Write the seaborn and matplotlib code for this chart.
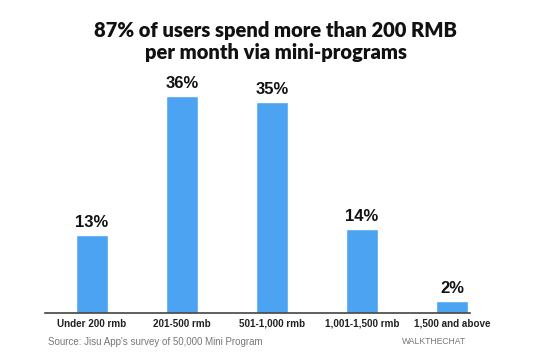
import pandas as pd
import seaborn as sns
import matplotlib.pyplot as plt

# spending brackets and share of users (%)
brackets = ['Under 200 rmb', '201-500 rmb', '501-1,000 rmb', '1,001-1,500 rmb', '1,500 and above']
share = [13, 36, 35, 14, 2]
labels = ['13%', '36%', '35%', '14%', '2%']

df = pd.DataFrame({'bracket': brackets, 'share': share})

sns.set_style('white')
plt.rcParams['font.family'] = ['Liberation Sans', 'DejaVu Sans']

fig = plt.figure(figsize=(5.52, 3.55), dpi=100)
ax = fig.add_axes([0.0815, 0.118, 0.77, 0.645])

sns.barplot(data=df, x='bracket', y='share', color='#4ba3f2', saturation=1,
            width=0.36, ax=ax)

for i, v in enumerate(share):
    ax.text(i, v + 0.8, labels[i], ha='center', va='bottom',
            fontsize=12, fontweight='bold', color='#111111')

ax.set_xlim(-0.52, 4.2)
ax.set_ylim(0, 38)
ax.set_xlabel('')
ax.set_ylabel('')
ax.set_yticks([])
ax.tick_params(axis='x', length=0, pad=4)
for t in ax.get_xticklabels():
    t.set_fontsize(7.1)
    t.set_fontweight('bold')
    t.set_color('#222222')
sns.despine(ax=ax, left=True)
ax.spines['bottom'].set_color('#444444')
ax.spines['bottom'].set_linewidth(1.2)

fig.text(0.5, 0.882, '87% of users spend more than 200 RMB\nper month via mini-programs',
         ha='center', va='center', fontsize=14.5, fontweight='heavy',
         family=['Lato', 'DejaVu Sans'], color='#111111', linespacing=1.2)

fig.text(0.087, 0.037, "Source: Jisu App's survey of 50,000 Mini Program",
         ha='left', va='center', fontsize=7, color='#777777')
fig.text(0.845, 0.037, 'WALKTHECHAT', ha='right', va='center',
         fontsize=6.2, color='#777777')

fig.savefig('out.png', dpi=100)
